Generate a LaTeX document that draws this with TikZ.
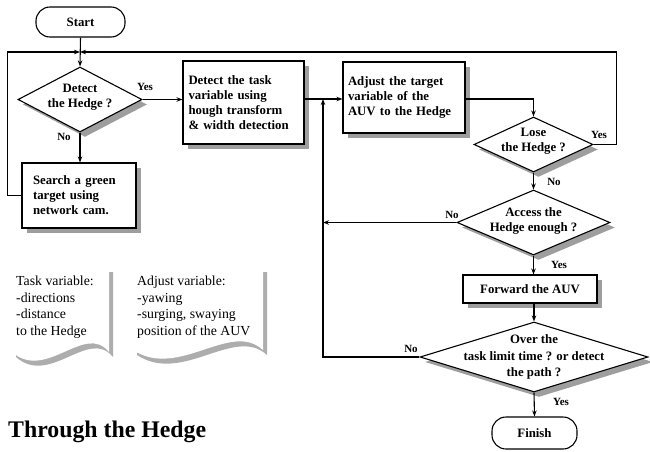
\documentclass[tikz,border=0pt]{standalone}
\usepackage{fontspec}
\setmainfont{Liberation Serif}
\usetikzlibrary{shapes.geometric,arrows.meta,shadows}

% outline of a note sheet with a wavy lower edge: left, right, top, bottom
\newcommand\notesheet[4]{(#1,#3) -- (#2,#3) -- (#2,#4)
  .. controls ({#2-0.25*(#2-#1)},#4-30) and ({#1+0.35*(#2-#1)},#4+30) .. (#1,#4) -- cycle}

\begin{document}
\begin{tikzpicture}[x=1pt,y=-1pt,
  every node/.style={font=\bfseries\fontsize{12.8}{15}\selectfont},
  shade/.style={drop shadow={shadow xshift=5pt,shadow yshift=-5pt,fill=black!38,opacity=1}},
  procbox/.style={draw,line width=1.1pt,fill=white,shade,inner sep=0pt,align=left},
  terminal/.style={draw,line width=1.1pt,fill=white,rounded corners=14pt,inner sep=0pt},
  decision/.style={draw,diamond,line width=1.1pt,fill=white,shade,inner sep=0pt},
  dtext/.style={align=center,inner sep=0pt},
  answer/.style={font=\bfseries\fontsize{11}{12}\selectfont,inner sep=0pt},
  flow/.style={line width=1.1pt,-{Stealth[length=6pt,width=4.5pt]}},
  notetext/.style={font=\fontsize{13.8}{16.5}\selectfont,align=left,inner sep=0pt,anchor=north west},
]
\useasboundingbox (0,0) rectangle (650,452);

% ---- note sheets ----
\fill[black!32] [shift={(4,5)}] \notesheet{12}{109}{267}{352};
\fill[white] \notesheet{12}{109}{267}{352};
\fill[black!32] [shift={(4,5)}] \notesheet{133}{263}{267}{350};
\fill[white] \notesheet{133}{263}{267}{350};
\node[notetext] (note1) at (16,276) {Task variable:\\-directions\\-distance\\to the Hedge};
\node[notetext] (note2) at (137,276) {Adjust variable:\\-yawing\\-surging, swaying\\position of the AUV};

\node[font=\bfseries\fontsize{23.8}{26}\selectfont,anchor=west,inner sep=0pt] (title) at (8,432) {Through the Hedge};

% ---- flowchart nodes ----
\node[terminal,minimum width=89pt,minimum height=30pt] (start) at (80.5,22) {Start};
\node[decision,minimum width=124pt,minimum height=65pt] (d1) at (80,99.5) {};
\node[dtext] (d1t) at (80,97) {Detect\\the Hedge ?};
\node[procbox,minimum width=121pt,minimum height=83pt,text width=110pt] (box1) at (243.5,102.5)
  {Detect the task\\variable using\\hough transform\\\& width detection};
\node[procbox,minimum width=114pt,minimum height=65pt,text width=92pt] (search) at (79,195.5)
  {Search a green\\target using\\network cam.};
\node[procbox,minimum width=122pt,minimum height=71pt,text width=112pt] (box2) at (404,97.5)
  {Adjust the target\\variable of the\\AUV to the Hedge};
\node[decision,minimum width=119pt,minimum height=55pt] (d2) at (533.5,144.5) {};
\node[dtext] (d2t) at (533.5,141) {Lose\\the Hedge ?};
\node[decision,minimum width=153pt,minimum height=65pt] (d3) at (533.5,222.5) {};
\node[dtext] (d3t) at (533.5,220.5) {Access the\\Hedge enough ?};
\node[procbox,minimum width=134pt,minimum height=28pt,align=center] (fwd) at (530,289) {Forward the AUV};
\node[decision,minimum width=228pt,minimum height=70pt] (d4) at (534,357) {};
\node[dtext,font=\bfseries\fontsize{12.8}{16.5}\selectfont] (d4t) at (534,357) {Over the\\task limit time ? or detect\\the path ?};
\node[terminal,minimum width=85pt,minimum height=32pt] (finish) at (534.5,433) {Finish};

\coordinate (J) at (80,52);
\coordinate (M) at (323,99);

% ---- connectors ----
\draw[flow] (start.south) -- (d1.north);
\draw[flow] (search.west) -- ++(-14,0) |- (J);
\draw[flow] (d2.east) -- ++(23,0) |- (J);
\draw[flow] (d1.east) -- (box1.west |- d1.east);
\draw[flow] (d1.south) -- (search.north -| d1.south);
\draw[flow] (box1.east |- M) -- (box2.west |- M);
\draw[flow] (box2.east |- M) -| (d2.north);
\draw[flow] (d2.south) -- (d3.north);
\draw[flow] (d3.west) -- (M |- d3.west);
\draw[flow] (d3.south) -- (d3.south |- fwd.north);
\draw[flow] (d4.north |- fwd.south) -- (d4.north);
\draw[flow] (d4.west) -| (M);
\draw[flow] (d4.south) -- (finish.north);

% ---- branch labels ----
\node[answer] (y1) at (145,87) {Yes};
\node[answer] (n1) at (64,137) {No};
\node[answer] (y2) at (599,135) {Yes};
\node[answer] (n2) at (554,182) {No};
\node[answer] (n3) at (452,215) {No};
\node[answer] (y3) at (559,265) {Yes};
\node[answer] (n4) at (411,349) {No};
\node[answer] (y4) at (561,402) {Yes};
\end{tikzpicture}
\end{document}
